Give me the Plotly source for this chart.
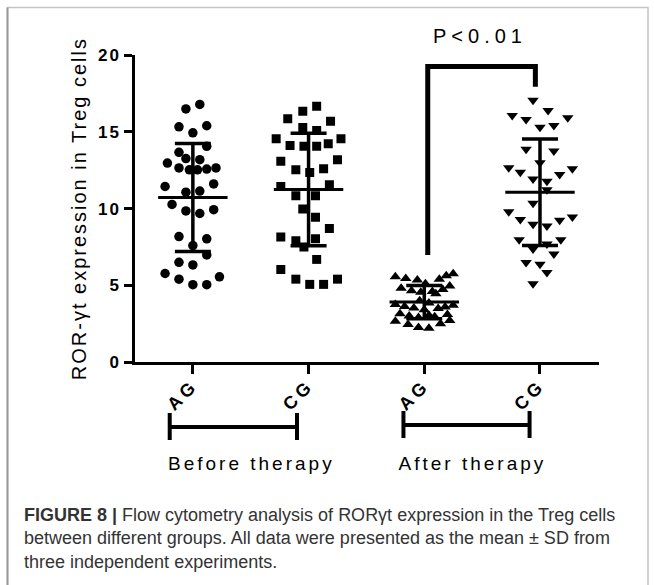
import numpy as np
import plotly.graph_objects as go

W, H = 654, 585

# ---------------- data ----------------
categories = ["AG", "CG", "AG", "CG"]
group_labels = ["Before therapy", "After therapy"]
p_label = "P<0.01"
y_title = "ROR-γt expression in Treg cells"
y_ticks = [0, 5, 10, 15, 20]

ag_before = [16.79, 16.50, 15.33, 15.40, 14.94, 13.67, 14.06, 13.26, 13.19, 12.97, 12.65, 12.53,
             12.53, 12.58, 12.65, 11.44, 11.61, 11.14, 11.07, 10.27, 9.85, 9.68, 9.93, 8.18,
             8.03, 7.59, 6.98, 6.50, 6.33, 5.77, 5.40, 5.55, 5.04, 5.04]
ag_before_jit = [0.06, -0.06, -0.12, 0.12, 0.0, -0.12, 0.12, -0.06, 0.06, -0.22, -0.12, -0.03,
                 0.04, 0.12, 0.20, -0.24, 0.18, 0.06, -0.06, -0.18, -0.06, 0.06, 0.18, -0.12,
                 0.12, 0.0, 0.12, -0.12, 0.0, -0.24, -0.12, 0.23, 0.0, 0.12]

cg_before = [16.67, 16.35, 15.86, 15.69, 15.28, 15.09, 14.55, 14.55, 14.11, 14.06, 14.06, 14.23,
             13.09, 13.19, 12.53, 12.36, 12.60, 11.44, 11.56, 10.83, 10.83, 9.98, 9.44, 8.71,
             8.15, 7.91, 8.03, 7.49, 6.69, 6.03, 5.40, 5.06, 5.06, 5.40]
cg_before_jit = [0.07, -0.05, -0.18, 0.19, -0.05, 0.07, -0.28, 0.28, -0.16, -0.04, 0.07, 0.17,
                 -0.24, 0.25, -0.11, 0.01, 0.13, -0.24, 0.18, -0.11, 0.06, -0.05, 0.06, 0.18,
                 -0.24, -0.11, 0.06, -0.04, 0.07, -0.24, -0.11, 0.01, 0.13, 0.25]

ag_after = [5.75, 5.62, 5.55, 5.45, 5.40, 5.35, 5.10, 4.95, 4.80, 4.72, 4.65, 4.60, 4.55, 4.45,
            4.00, 3.85, 3.75, 3.70, 3.62, 3.58, 3.52, 3.48, 3.40, 3.15, 3.10, 3.00, 2.95, 2.90,
            3.05, 2.65, 2.70, 2.45, 2.50, 2.25, 2.20]
ag_after_jit = [0.25, 0.19, -0.25, -0.16, 0.13, -0.06, 0.01, 0.22, -0.20, 0.16, -0.11, 0.07, -0.03,
                0.10, -0.04, 0.04, -0.25, 0.25, -0.17, 0.18, -0.09, 0.12, 0.0, -0.21, 0.20, -0.13,
                0.09, -0.05, 0.04, -0.25, 0.22, -0.14, 0.14, -0.05, 0.04]

cg_after = [17.06, 16.07, 15.81, 16.40, 15.92, 15.30, 15.41, 13.87, 13.76, 12.99, 12.66, 12.37,
            12.22, 12.59, 11.93, 11.78, 11.23, 10.35, 9.79, 9.29, 8.98, 8.87, 9.24, 9.46, 7.97,
            7.37, 7.70, 7.97, 7.04, 6.49, 6.38, 5.83, 5.10]
cg_after_jit = [-0.06, -0.24, -0.12, 0.07, 0.24, 0.0, 0.12, -0.12, 0.12, 0.0, -0.27, -0.17, 0.17,
                0.28, -0.06, 0.06, 0.06, -0.06, -0.27, -0.17, -0.06, 0.06, 0.17, 0.28, -0.18,
                -0.06, 0.06, 0.18, 0.12, -0.12, 0.0, 0.06, -0.06]

series = [ag_before, cg_before, ag_after, cg_after]
jitters = [ag_before_jit, cg_before_jit, ag_after_jit, cg_after_jit]
symbols = ["circle", "square", "triangle-up", "triangle-down"]
sizes = [9.5, 9, 10, 10]

# significance bracket (data units)
bracket_x = [3.03, 3.96]
bracket_y = [6.97, 19.26, 17.94]

# ---------------- layout helpers ----------------
def py(p):  # pixel row -> paper y
    return 1 - p / H

def px(p):  # pixel col -> paper x
    return p / W

fig = go.Figure()

for i, (vals, jit, sym, sz) in enumerate(zip(series, jitters, symbols, sizes)):
    xc = i + 1
    fig.add_trace(go.Scatter(
        x=[xc + d for d in jit], y=vals, mode="markers",
        marker=dict(symbol=sym, size=sz, color="black", line=dict(width=0)),
        showlegend=False, hoverinfo="y"))

for i, vals in enumerate(series):
    xc = i + 1
    m = float(np.mean(vals))
    sd = float(np.std(vals, ddof=1))
    fig.add_trace(go.Scatter(
        x=[xc - 0.3, xc + 0.3], y=[m, m], mode="lines",
        line=dict(color="black", width=3), showlegend=False, hoverinfo="skip"))
    fig.add_trace(go.Scatter(
        x=[xc], y=[m], mode="markers", marker=dict(size=1, color="rgba(0,0,0,0)"),
        error_y=dict(type="data", array=[sd], visible=True, color="black",
                     thickness=3.5, width=18),
        showlegend=False, hoverinfo="skip"))

# significance bracket
fig.add_trace(go.Scatter(
    x=[bracket_x[0], bracket_x[0], bracket_x[1], bracket_x[1]],
    y=[bracket_y[0], bracket_y[1], bracket_y[1], bracket_y[2]],
    mode="lines", line=dict(color="black", width=5), showlegend=False, hoverinfo="skip"))

shapes = []
# group brackets under the axis
for (x0, x1, yy) in [(0.80, 1.90, 427), (2.82, 3.91, 425)]:
    shapes.append(dict(type="line", xref="x", yref="paper", x0=x0, x1=x1, y0=py(yy), y1=py(yy),
                       line=dict(color="black", width=4)))
    for xx in (x0, x1):
        shapes.append(dict(type="line", xref="x", yref="paper", x0=xx, x1=xx,
                           y0=py(yy - 14), y1=py(yy + 13), line=dict(color="black", width=4)))
# outer frame
shapes.append(dict(type="rect", xref="paper", yref="paper", x0=px(7.5), x1=px(648),
                   y0=-0.05, y1=py(7.5), line=dict(color="#c4c4c4", width=1.5)))
shapes.append(dict(type="line", xref="paper", yref="paper", x0=px(7.5), x1=px(7.5),
                   y0=-0.05, y1=py(7.5), line=dict(color="#9a9a9a", width=2)))

annotations = [
    dict(text=group_labels[0], x=1.506, y=py(463), xref="x", yref="paper", showarrow=False,
         xanchor="center", yanchor="middle",
         font=dict(family="Liberation Sans, Arial", size=19, color="black")),
    dict(text=group_labels[1], x=3.415, y=py(463), xref="x", yref="paper", showarrow=False,
         xanchor="center", yanchor="middle",
         font=dict(family="Liberation Sans, Arial", size=19, color="black")),
    dict(text=p_label, x=3.48, y=py(36), xref="x", yref="paper", showarrow=False,
         xanchor="center", yanchor="middle",
         font=dict(family="Liberation Sans, Arial", size=20, color="black")),
    dict(text="<b>FIGURE 8 |</b> Flow cytometry analysis of RORγt expression in the Treg cells<br>"
              "between different groups. All data were presented as the mean ± SD from<br>"
              "three independent experiments.",
         x=px(22), y=py(503), xref="paper", yref="paper", xanchor="left", yanchor="top",
         align="left", showarrow=False,
         font=dict(family="Liberation Sans Narrow, Liberation Sans, Arial", size=18, color="#333333")),
]

fig.update_layout(
    width=W, height=H, margin=dict(l=0, r=0, t=0, b=0),
    paper_bgcolor="white", plot_bgcolor="white",
    shapes=shapes, annotations=annotations,
    font=dict(family="Liberation Sans, Arial", color="black"),
    xaxis=dict(domain=[px(135), px(599)], range=[0.5, 4.51],
               tickvals=[1, 2, 3, 4], ticktext=categories, tickangle=-45,
               tickfont=dict(family="Liberation Sans, Arial", size=18, color="black", weight="bold"),
               ticks="outside", ticklen=9, tickwidth=2.5, tickcolor="black",
               showline=True, linewidth=2.5, linecolor="black",
               showgrid=False, zeroline=False, automargin=False, ticklabelstandoff=-6),
    yaxis=dict(domain=[py(362), py(55.2)], range=[0, 20], tickvals=y_ticks,
               tickfont=dict(family="Liberation Sans, Arial", size=17, color="black", weight="bold"),
               ticks="outside", ticklen=8, tickwidth=2.5, tickcolor="black",
               showline=True, linewidth=2.5, linecolor="black",
               showgrid=False, zeroline=False, automargin=False,
               title=dict(text=y_title, standoff=10,
                          font=dict(family="Liberation Sans, Arial", size=20, color="black"))),
)

post = """
var gd = document.getElementById('{plot_id}');
function spacing(){
  gd.querySelectorAll('.ytitle').forEach(function(e){ e.style.letterSpacing='2px'; });
  gd.querySelectorAll('.xtick text').forEach(function(e){ e.style.letterSpacing='4px'; });
  gd.querySelectorAll('.ytick text').forEach(function(e){ e.style.letterSpacing='2px'; });
  gd.querySelectorAll('.annotation-text').forEach(function(e){
    var t = e.textContent;
    if (t.indexOf('FIGURE') === 0) return;
    if (t.indexOf('P<') === 0) { e.style.letterSpacing='5px'; }
    else { e.style.letterSpacing='3px'; }
  });
}
spacing();
gd.on('plotly_afterplot', spacing);
"""

fig.write_html("out.html", post_script=post)
